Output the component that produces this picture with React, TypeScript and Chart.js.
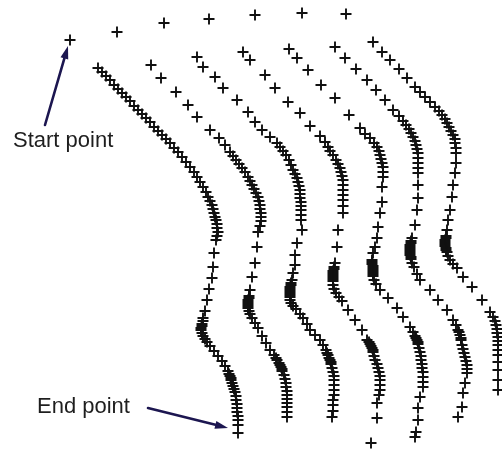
import React, { useEffect, useRef } from "react";
import { Chart, registerables } from "chart.js";

Chart.register(...registerables);

// Trajectory samples (x, y in the picture's frame, y pointing down)
const topRow: number[][] = [
  [70, 40], [117, 32], [164, 23], [209, 19], [255, 15], [302, 13], [346, 14],
];

const col1: number[][] = [
  [98, 68], [102, 72], [106, 76], [110, 80], [114, 85], [118, 89], [122, 93], [126, 97],
  [130, 101], [134, 106], [138, 110], [142, 114], [146, 118], [150, 122], [154, 127],
  [158, 131], [162, 135], [166, 139], [170, 143], [174, 148], [178, 152], [182, 157],
  [186, 162], [190, 167], [194, 172], [197, 177], [200, 182], [203, 187], [206, 192],
  [208, 197], [210, 201], [212, 205], [213, 209], [214, 213], [215, 217], [216, 220],
  [217, 224], [217, 228], [218, 232], [217, 236], [216, 240], [214, 253], [213, 267],
  [212, 278], [209, 289], [207, 300], [205, 311], [203, 318], [203, 321], [202, 324],
  [202, 326], [201, 328], [201, 330], [202, 333], [203, 336], [205, 339], [207, 342],
  [210, 346], [214, 351], [218, 356], [222, 361], [225, 366], [228, 371], [229, 374],
  [230, 376], [231, 378], [231, 380], [232, 383], [233, 386], [234, 389], [235, 392],
  [236, 396], [236, 400], [237, 404], [237, 408], [237, 412], [238, 416], [238, 420],
  [238, 425], [238, 433],
];

const col2: number[][] = [
  [151, 65], [161, 78], [176, 92], [188, 105], [197, 117], [210, 130], [219, 138],
  [225, 145], [230, 152], [233, 156], [236, 160], [239, 164], [242, 168], [245, 172],
  [248, 177], [250, 181], [252, 185], [254, 189], [256, 193], [258, 197], [259, 201],
  [260, 205], [260, 209], [261, 213], [261, 217], [261, 221], [260, 226], [258, 232],
  [257, 247], [255, 263], [252, 277], [250, 290], [249, 296], [249, 298], [248, 300],
  [248, 302], [248, 304], [248, 306], [248, 308], [249, 311], [250, 314], [252, 318],
  [255, 323], [258, 328], [262, 336], [266, 343], [270, 350], [274, 355], [276, 358],
  [277, 360], [279, 363], [280, 365], [281, 367], [282, 369], [282, 371], [284, 375],
  [285, 379], [286, 383], [286, 387], [287, 391], [287, 395], [287, 399], [287, 403],
  [287, 407], [287, 412], [287, 417],
];

const col3: number[][] = [
  [197, 57], [203, 67], [215, 77], [223, 88], [237, 100], [248, 112], [255, 122],
  [262, 130], [270, 137], [277, 143], [280, 147], [283, 151], [286, 155], [289, 160],
  [291, 165], [293, 170], [295, 174], [297, 178], [298, 182], [299, 186], [300, 190],
  [300, 194], [300, 198], [301, 202], [301, 206], [301, 210], [301, 215], [301, 220],
  [302, 230], [297, 243], [295, 255], [295, 265], [293, 273], [292, 280], [291, 283],
  [291, 285], [290, 287], [290, 289], [290, 291], [290, 293], [290, 295], [290, 297],
  [290, 300], [291, 303], [293, 306], [296, 309], [300, 314], [303, 318], [307, 324],
  [310, 330], [315, 335], [320, 340], [323, 345], [326, 350], [327, 353], [328, 355],
  [329, 358], [330, 360], [331, 362], [331, 364], [332, 368], [333, 372], [334, 376],
  [334, 380], [334, 385], [334, 390], [334, 395], [333, 400], [333, 405], [333, 411],
  [332, 417],
];

const col4: number[][] = [
  [243, 52], [250, 60], [265, 75], [275, 88], [288, 102], [300, 113], [310, 126],
  [320, 136], [325, 142], [328, 147], [330, 151], [333, 155], [336, 160], [338, 164],
  [340, 168], [341, 172], [342, 176], [343, 180], [343, 185], [343, 190], [343, 195],
  [343, 200], [343, 206], [343, 213], [338, 230], [337, 247], [335, 263], [334, 267],
  [334, 269], [333, 271], [333, 273], [333, 275], [333, 277], [333, 279], [333, 281],
  [333, 285], [334, 289], [336, 293], [339, 297], [342, 301], [348, 310], [355, 320],
  [362, 330], [367, 340], [369, 342], [370, 344], [371, 346], [372, 348], [373, 350],
  [373, 352], [374, 356], [375, 360], [377, 364], [378, 368], [379, 372], [380, 376],
  [380, 380], [380, 385], [380, 390], [379, 395], [377, 403], [377, 418], [371, 443],
];

const col5: number[][] = [
  [289, 49], [297, 58], [308, 70], [321, 85], [335, 98], [349, 115], [360, 128],
  [365, 134], [370, 138], [374, 143], [377, 147], [379, 151], [380, 155], [381, 159],
  [382, 163], [383, 167], [383, 172], [383, 177], [382, 187], [382, 202], [380, 213],
  [378, 227], [377, 238], [375, 247], [373, 253], [372, 260], [372, 262], [372, 264],
  [373, 266], [373, 268], [373, 270], [373, 272], [373, 274], [373, 276], [374, 280],
  [376, 284], [380, 290], [388, 298], [397, 308], [403, 317], [410, 327], [413, 332],
  [415, 336], [416, 338], [417, 340], [418, 342], [418, 344], [419, 348], [420, 352],
  [421, 356], [421, 360], [422, 364], [422, 368], [423, 372], [423, 377], [423, 382],
  [423, 387], [420, 397], [418, 408], [418, 420], [416, 432], [415, 437],
];

const col6: number[][] = [
  [335, 47], [345, 58], [356, 69], [367, 80], [376, 90], [385, 100], [393, 110],
  [399, 116], [403, 121], [406, 125], [409, 129], [411, 133], [413, 137], [415, 141],
  [416, 145], [417, 149], [418, 153], [418, 158], [418, 163], [418, 168], [418, 173],
  [418, 185], [418, 198], [417, 210], [415, 225], [412, 238], [411, 241], [411, 243],
  [410, 245], [410, 247], [410, 249], [410, 251], [410, 253], [410, 255], [411, 257],
  [411, 259], [412, 263], [414, 267], [417, 274], [420, 280], [430, 290], [438, 300],
  [447, 310], [453, 320], [456, 325], [458, 330], [459, 332], [460, 335], [461, 338],
  [461, 340], [462, 345], [463, 349], [464, 353], [465, 357], [466, 361], [467, 365],
  [467, 369], [467, 373], [465, 383], [463, 393], [462, 407], [458, 417],
];

const col7: number[][] = [
  [373, 42], [382, 52], [390, 60], [399, 69], [407, 78], [415, 87], [420, 92],
  [425, 97], [430, 102], [435, 107], [439, 111], [442, 115], [445, 119], [447, 123],
  [449, 127], [451, 131], [453, 135], [455, 139], [455, 143], [456, 148], [456, 153],
  [456, 163], [455, 173], [453, 185], [452, 197], [450, 210], [448, 220], [447, 230],
  [446, 236], [446, 238], [445, 240], [445, 242], [445, 244], [445, 246], [446, 248],
  [446, 250], [447, 252], [448, 256], [450, 260], [453, 264], [457, 268], [463, 277],
  [472, 287], [482, 300], [490, 312], [493, 317], [495, 321], [496, 325], [497, 329],
  [497, 333], [498, 337], [498, 341], [498, 345], [498, 350], [498, 355], [498, 362],
  [498, 370], [498, 380], [498, 390],
];

const seriesList: number[][][] = [topRow, col1, col2, col3, col4, col5, col6, col7];

// Annotations
const labelTexts: string[] = ["Start point", "End point"];
const labelAnchors: number[][] = [[13, 147], [37, 413]];
const arrowFrom: number[][] = [[45, 125], [148, 408]];
const arrowTo: number[][] = [[68, 46], [228, 428]];

const annotationPlugin = {
  id: "annotationPlugin",
  afterDraw(chart: any) {
    const ctx = chart.ctx;
    const sx = chart.scales.x;
    const sy = chart.scales.y;
    ctx.save();
    ctx.fillStyle = "#1e1e1e";
    ctx.font = "22px 'Liberation Sans', Arial, sans-serif";
    ctx.textBaseline = "alphabetic";
    ctx.textAlign = "left";
    labelTexts.forEach((t, i) => {
      ctx.fillText(t, sx.getPixelForValue(labelAnchors[i][0]), sy.getPixelForValue(labelAnchors[i][1]));
    });
    ctx.strokeStyle = "#1c1650";
    ctx.fillStyle = "#1c1650";
    ctx.lineWidth = 2.6;
    ctx.lineCap = "round";
    arrowFrom.forEach((f, i) => {
      const x0 = sx.getPixelForValue(f[0]);
      const y0 = sy.getPixelForValue(f[1]);
      const x1 = sx.getPixelForValue(arrowTo[i][0]);
      const y1 = sy.getPixelForValue(arrowTo[i][1]);
      const ang = Math.atan2(y1 - y0, x1 - x0);
      const headLen = 13;
      const headW = 4;
      const bx = x1 - headLen * Math.cos(ang);
      const by = y1 - headLen * Math.sin(ang);
      ctx.beginPath();
      ctx.moveTo(x0, y0);
      ctx.lineTo(bx, by);
      ctx.stroke();
      ctx.beginPath();
      ctx.moveTo(x1, y1);
      ctx.lineTo(bx + headW * Math.sin(ang), by - headW * Math.cos(ang));
      ctx.lineTo(bx - headW * Math.sin(ang), by + headW * Math.cos(ang));
      ctx.closePath();
      ctx.fill();
    });
    ctx.restore();
  },
};

export default function App() {
  const canvasRef = useRef<HTMLCanvasElement | null>(null);

  useEffect(() => {
    const canvas = canvasRef.current;
    if (!canvas) return;
    const chart = new Chart(canvas, {
      type: "scatter",
      data: {
        datasets: seriesList.map((s, i) => ({
          label: "track " + i,
          data: s.map((p) => ({ x: p[0], y: p[1] })),
          pointStyle: "cross",
          pointRadius: 5.5,
          pointBorderWidth: 1.9,
          borderColor: "#111111",
          backgroundColor: "#111111",
          showLine: false,
          clip: false,
        })),
      },
      options: {
        responsive: false,
        animation: false,
        maintainAspectRatio: false,
        layout: { padding: 0, autoPadding: false },
        plugins: {
          legend: { display: false },
          tooltip: { enabled: false },
        },
        scales: {
          x: { type: "linear", min: 0, max: 502, display: false },
          y: { type: "linear", min: 0, max: 451, reverse: true, display: false },
        },
      },
      plugins: [annotationPlugin],
    });
    return () => chart.destroy();
  }, []);

  return (
    <div style={{ position: "fixed", left: 0, top: 0, width: 502, height: 451, background: "#ffffff" }}>
      <canvas ref={canvasRef} width={502} height={451} style={{ width: 502, height: 451, display: "block" }} />
    </div>
  );
}
